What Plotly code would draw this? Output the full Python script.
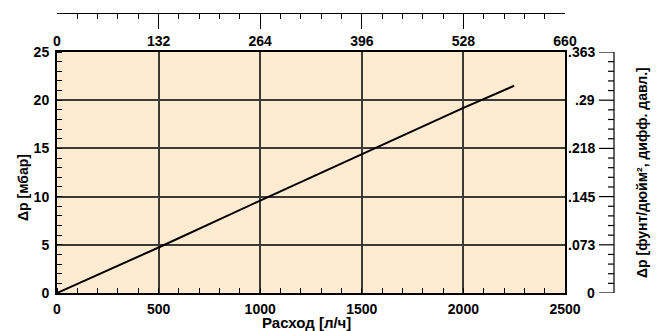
import plotly.graph_objects as go

# Data
flow_lph = [0, 500, 1000, 1500, 2000, 2250]
dp_mbar = [0, 4.72, 9.59, 14.43, 19.2, 21.5]

bottom_ticks = [0, 500, 1000, 1500, 2000, 2500]
left_ticks = [0, 5, 10, 15, 20, 25]
top_ticks = [0, 132, 264, 396, 528, 660]
right_tickvals = [0, 5, 10, 15, 20, 25]
right_ticktext = ["0", ".073", ".145", ".218", ".29", ".363"]

W, H = 658, 331
L, R, T, B = 57, 20, 13, 38
plot_top_px = 52
plot_right_px = 565
right_axis_px = 614
area_w = W - L - R
area_h = H - T - B
x_dom = [0, (plot_right_px - L) / area_w]
y_dom = [0, (H - B - plot_top_px) / area_h]
right_pos = (right_axis_px - L) / area_w

FONT = "Liberation Sans, Arial, sans-serif"
tickfont = dict(family=FONT, size=14, color="black", weight="bold")
grid_col = "#3c3a35"

fig = go.Figure()
fig.add_trace(go.Scatter(x=flow_lph, y=dp_mbar, mode="lines",
                         line=dict(color="black", width=2), showlegend=False,
                         hoverinfo="skip"))
fig.add_trace(go.Scatter(x=[None], y=[None], xaxis="x2", yaxis="y", showlegend=False))
fig.add_trace(go.Scatter(x=[None], y=[None], xaxis="x3", yaxis="y", showlegend=False))

fig.update_layout(
    template="none",
    width=W, height=H,
    margin=dict(l=L, r=R, t=T, b=B, pad=0, autoexpand=False),
    paper_bgcolor="white",
    plot_bgcolor="#FEEBD2",
    showlegend=False,
    xaxis=dict(domain=x_dom, range=[0, 2500], tickvals=bottom_ticks,
               showgrid=True, gridcolor=grid_col, gridwidth=1.5,
               showline=True, linecolor="black", linewidth=2, mirror=True,
               ticks="", tickfont=tickfont, zeroline=False,
               ticklabelstandoff=2,
               minor=dict(ticks="inside", ticklen=5, dtick=100, tick0=0,
                          tickcolor="black", tickwidth=1, showgrid=False),
               fixedrange=True),
    yaxis=dict(domain=y_dom, range=[0, 25], tickvals=left_ticks,
               showgrid=True, gridcolor=grid_col, gridwidth=1.5,
               showline=True, linecolor="black", linewidth=2, mirror=True,
               ticks="", tickfont=tickfont, zeroline=False,
               ticklabelstandoff=3,
               minor=dict(ticks="inside", ticklen=5, dtick=1, tick0=0,
                          tickcolor="black", tickwidth=1, showgrid=False),
               fixedrange=True),
    xaxis2=dict(domain=x_dom, range=[0, 660], overlaying="x", anchor="y",
                side="top", tickvals=top_ticks, showgrid=False, showline=False,
                ticks="", tickfont=tickfont, zeroline=False, fixedrange=True,
                ticklabelstandoff=2),
    xaxis3=dict(domain=x_dom, range=[0, 660], overlaying="x", anchor="free",
                position=1, side="top", tickvals=top_ticks, showgrid=False,
                showline=True, linecolor="black", linewidth=1,
                ticks="inside", ticklen=15, tickcolor="black", tickwidth=1,
                showticklabels=False, zeroline=False,
                minor=dict(ticks="inside", ticklen=5, dtick=26.4, tick0=0,
                           tickcolor="black", tickwidth=1),
                fixedrange=True),
)

# right-hand pressure axis: line, ticks and labels placed on the y scale
fig.add_shape(type="line", xref="paper", yref="y", x0=right_pos, x1=right_pos,
              y0=right_tickvals[0], y1=right_tickvals[-1],
              line=dict(color="black", width=1.2))
for v in range(right_tickvals[0], right_tickvals[-1] + 1):
    ln = 15 if v in right_tickvals else 6
    fig.add_shape(type="line", xref="paper", yref="y",
                  x0=right_pos - ln / area_w, x1=right_pos, y0=v, y1=v,
                  line=dict(color="black", width=1.2))
for v, t in zip(right_tickvals, right_ticktext):
    fig.add_annotation(text=t, x=right_pos - 17 / area_w, y=v, xref="paper", yref="y",
                       showarrow=False, font=tickfont, xanchor="right",
                       yanchor="middle")

def py(px):
    return (H - B - px) / area_h

def pxx(px):
    return (px - L) / area_w

titlefont = dict(family=FONT, size=14, color="black", weight="bold")
fig.add_annotation(text="Расход [л/ч]", x=pxx(306), y=py(322.5), xref="paper", yref="paper",
                   showarrow=False, font=dict(family=FONT, size=15, color="black", weight="bold"),
                   xanchor="center", yanchor="middle")
fig.add_annotation(text="Δp [мбар]", x=pxx(23), y=py(188), xref="paper", yref="paper",
                   showarrow=False, font=titlefont, textangle=-90,
                   xanchor="center", yanchor="middle")
fig.add_annotation(text="Δp [фунт/дюйм², дифф. давл.]", x=pxx(642), y=py(172),
                   xref="paper", yref="paper", showarrow=False, font=titlefont,
                   textangle=-90, xanchor="center", yanchor="middle")
fig.add_annotation(text="Расход [галлонов/ч]", x=pxx(340), y=py(-8), xref="paper",
                   yref="paper", showarrow=False, font=titlefont,
                   xanchor="center", yanchor="middle")

fig.write_html("out.html", config={"displayModeBar": False},
               post_script="document.body.style.margin='0';document.body.style.overflow='hidden';")
